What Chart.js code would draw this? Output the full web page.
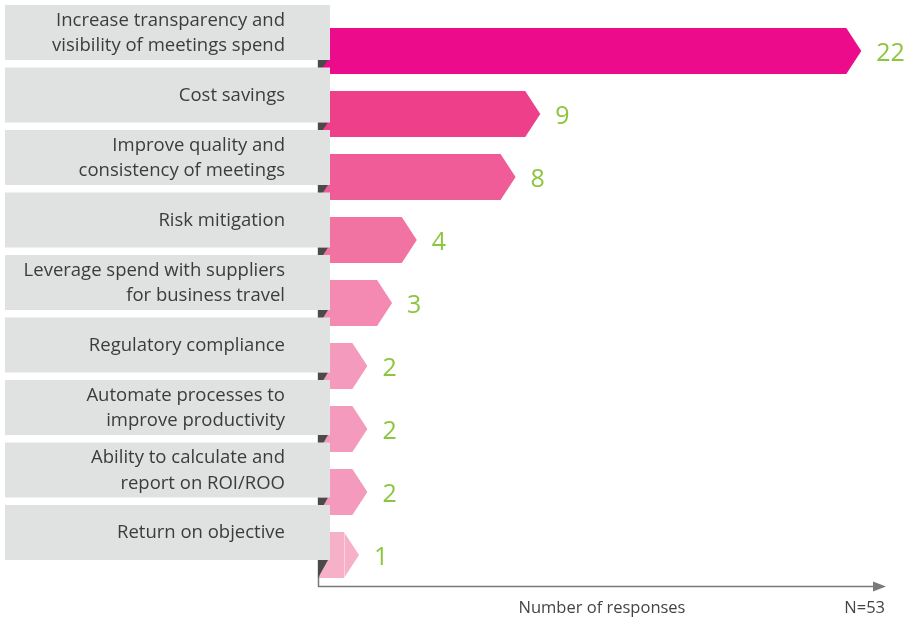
<!DOCTYPE html>
<html><head><meta charset="utf-8">
<script src="https://cdn.jsdelivr.net/npm/chart.js@4.4.1/dist/chart.umd.min.js"></script>
<style>html,body{margin:0;padding:0;background:#fff}#wrap{width:911px;height:622px;position:relative}</style>
</head><body><div id="wrap"><canvas id="c"></canvas></div>
<script>
const categories = [
  ["Increase transparency and", "visibility of meetings spend"],
  ["Cost savings"],
  ["Improve quality and", "consistency of meetings"],
  ["Risk mitigation"],
  ["Leverage spend with suppliers", "for business travel"],
  ["Regulatory compliance"],
  ["Automate processes to", "improve productivity"],
  ["Ability to calculate and", "report on ROI/ROO"],
  ["Return on objective"]
];
const responses = [22, 9, 8, 4, 3, 2, 2, 2, 1];
const barColors = ["#ec0c8b", "#ee3f8b", "#ef5c97", "#f073a1", "#f48ab2", "#f49bbd", "#f49bbd", "#f49bbd", "#f6b0c8"];
const axisTitle = "Number of responses";
const sampleNote = "N=53";

const FONT = "'Open Sans', 'DejaVu Sans', sans-serif";
const BOX_LEFT = 5, BOX_RIGHT = 330, BOX_H = 55, BOX_ABOVE = 23, BOX_PITCH = 62.5;
const TIP = 15, MIN_BODY = 14;

const chevronPlugin = {
  id: 'chevrons',
  beforeDatasetDraw(chart, args) {
    const ctx = chart.ctx;
    const meta = args.meta;
    meta.data.forEach((el, i) => {
      const h = el.height;
      const top = el.y - h / 2, bot = el.y + h / 2;
      const right = Math.max(el.x, BOX_RIGHT + MIN_BODY + TIP);
      ctx.save();
      ctx.fillStyle = barColors[i];
      ctx.beginPath();
      ctx.moveTo(el.base, top);
      ctx.lineTo(right - TIP, top);
      ctx.lineTo(right, el.y);
      ctx.lineTo(right - TIP, bot);
      ctx.lineTo(el.base, bot);
      ctx.closePath();
      ctx.fill();
      if (el.x < BOX_RIGHT + MIN_BODY + TIP) {
        ctx.strokeStyle = 'rgba(255,255,255,0.45)';
        ctx.lineWidth = 1;
        ctx.beginPath();
        ctx.moveTo(right - TIP + 0.5, top);
        ctx.lineTo(right - TIP + 0.5, bot);
        ctx.stroke();
      }
      ctx.restore();
    });
    return false;
  },
  afterDatasetsDraw(chart) {
    const ctx = chart.ctx;
    const area = chart.chartArea;
    const meta = chart.getDatasetMeta(0);
    ctx.save();
    ctx.strokeStyle = '#7a7a7a';
    ctx.lineWidth = 1.5;
    ctx.beginPath();
    ctx.moveTo(area.left + 0.5, area.top);
    ctx.lineTo(area.left + 0.5, area.bottom);
    ctx.lineTo(area.right - 4, area.bottom);
    ctx.stroke();
    ctx.fillStyle = '#7a7a7a';
    ctx.beginPath();
    ctx.moveTo(area.right, area.bottom);
    ctx.lineTo(area.right - 13, area.bottom - 5);
    ctx.lineTo(area.right - 13, area.bottom + 5);
    ctx.closePath();
    ctx.fill();

    const first = meta.data[0];
    const firstBoxTop = first.y - first.height / 2 - BOX_ABOVE;
    const boxTopOf = i => firstBoxTop + i * BOX_PITCH;

    meta.data.forEach((el, i) => {
      const barBot = el.y + el.height / 2;
      const boxBot = boxTopOf(i) + BOX_H;
      ctx.fillStyle = '#4a4a4a';
      ctx.beginPath();
      ctx.moveTo(el.base, boxBot);
      ctx.lineTo(BOX_RIGHT - 2, boxBot);
      ctx.lineTo(el.base, barBot);
      ctx.closePath();
      ctx.fill();
    });
    meta.data.forEach((el, i) => {
      const boxTop = boxTopOf(i);
      ctx.fillStyle = '#e0e1e1';
      ctx.fillRect(BOX_LEFT, boxTop, BOX_RIGHT - BOX_LEFT, BOX_H);
      const lines = categories[i];
      ctx.fillStyle = '#3c3c3c';
      ctx.font = "18.5px " + FONT;
      ctx.textAlign = 'right';
      ctx.textBaseline = 'middle';
      const lh = 25.5;
      const cy = boxTop + BOX_H / 2 + 0.5;
      lines.forEach((t, k) => {
        ctx.fillText(t, 285, cy + (k - (lines.length - 1) / 2) * lh);
      });
      const right = Math.max(el.x, BOX_RIGHT + MIN_BODY + TIP);
      ctx.fillStyle = '#8cc63f';
      ctx.font = "25px " + FONT;
      ctx.textAlign = 'left';
      ctx.fillText(String(responses[i]), right + 15, el.y + 3);
    });

    ctx.fillStyle = '#444';
    ctx.font = "16.5px " + FONT;
    ctx.textAlign = 'center';
    ctx.textBaseline = 'middle';
    ctx.fillText(axisTitle, (area.left + area.right) / 2, area.bottom + 22);
    ctx.textAlign = 'right';
    ctx.fillText(sampleNote, area.right - 1, area.bottom + 22);
    ctx.restore();
  }
};

new Chart(document.getElementById('c'), {
  type: 'bar',
  data: {
    labels: categories.map(l => l.join(' ')),
    datasets: [{ data: responses, backgroundColor: barColors, barThickness: 46 }]
  },
  options: {
    indexAxis: 'y',
    responsive: true,
    maintainAspectRatio: false,
    animation: false,
    devicePixelRatio: 1,
    layout: { padding: { left: 318, right: 25, top: 19.5, bottom: 35.5 } },
    plugins: { legend: { display: false }, tooltip: { enabled: false } },
    scales: {
      x: { display: false, min: 0, max: 23 },
      y: { display: false, offset: true }
    }
  },
  plugins: [chevronPlugin]
});
</script>
</body></html>
